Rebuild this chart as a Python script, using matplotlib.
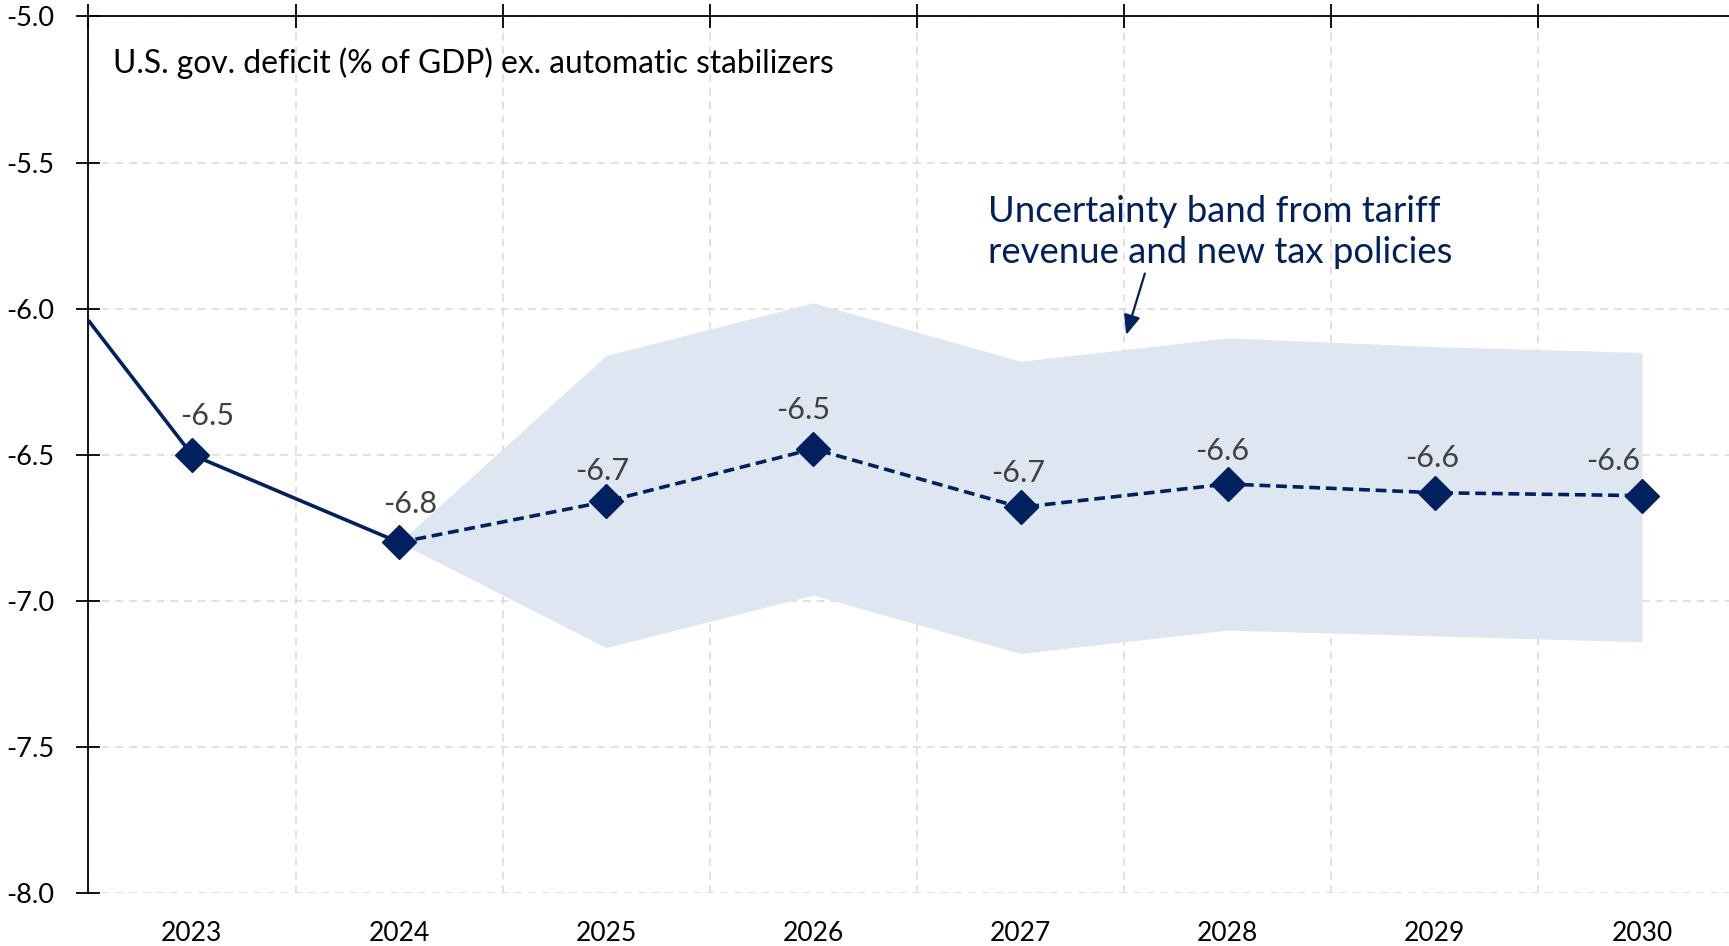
import matplotlib
matplotlib.use("Agg")
import matplotlib.pyplot as plt

plt.rcParams['font.family'] = ['Lato', 'DejaVu Sans']

# ---- data ----
years = [2023, 2024, 2025, 2026, 2027, 2028, 2029, 2030]
deficit = [-6.50, -6.80, -6.66, -6.48, -6.68, -6.60, -6.63, -6.64]
start_x = 2022.5
start_val = -6.04
band_years = [2024, 2025, 2026, 2027, 2028, 2029, 2030]
band_upper = [-6.80, -6.16, -5.98, -6.18, -6.10, -6.13, -6.15]
band_lower = [-6.80, -7.16, -6.98, -7.18, -7.10, -7.12, -7.14]
year_labels = [str(y) for y in years]
ytick_vals = [-8.0, -7.5, -7.0, -6.5, -6.0, -5.5, -5.0]
ytick_labels = ["-8.0", "-7.5", "-7.0", "-6.5", "-6.0", "-5.5", "-5.0"]
title_text = "U.S. gov. deficit (% of GDP) ex. automatic stabilizers"
band_text = "Uncertainty band from tariff\nrevenue and new tax policies"

NAVY = "#002060"
BAND = "#dee6f1"
GRID = "#d9d9d9"
LABEL = "#404040"

fig = plt.figure(figsize=(17.29, 9.46), dpi=100)
ax = fig.add_axes([0.0511, 0.056, 0.9489, 0.9266])

ax.set_xlim(2022.5, 2030.42)
ax.set_ylim(-8.0, -5.0)

# band
ax.fill_between(band_years, band_lower, band_upper, color=BAND, lw=0, zorder=1)

# solid historical part
ax.plot([start_x] + years[:2], [start_val] + deficit[:2], color=NAVY, lw=2.6,
        solid_capstyle='butt', zorder=3)
# dashed projection
ax.plot(years[1:], deficit[1:], color=NAVY, lw=2.6, ls=(0, (3, 1.6)), zorder=3)
# markers
ax.plot(years, deficit, ls='none', marker='D', ms=17.5, color=NAVY, zorder=4)

# value labels
dx = [11, 8, -3, -7, -2, -4, -2, -21]
dy = [28, 28, 22, 28, 25, 24, 25, 25]
for x, v, d, e in zip(years, deficit, dx, dy):
    ax.annotate(f"{v:.1f}", (x, v), xytext=(d, e), textcoords='offset points',
                ha='center', va='center', fontsize=22, color=LABEL, zorder=5)

# axes styling
for s in ['right', 'bottom']:
    ax.spines[s].set_visible(False)
ax.spines['top'].set_color('black')
ax.spines['left'].set_color('black')
ax.spines['top'].set_linewidth(1.3)
ax.spines['left'].set_linewidth(1.3)

ax.set_yticks(ytick_vals)
ax.set_yticklabels(ytick_labels, fontsize=19.5)
ax.tick_params(axis='y', direction='inout', length=17, width=1.3, pad=16, colors='black')

ax.set_xticks(years)
ax.set_xticklabels(year_labels, fontsize=19)
ax.tick_params(axis='x', which='major', bottom=True, length=0, pad=20)
ax.set_xticks([y + 0.5 for y in [2022] + years[:-1]], minor=True)
ax.tick_params(axis='x', which='minor', bottom=False, top=True, direction='inout',
               length=17, width=1.3)

ax.grid(which='minor', axis='x', color=GRID, ls=(0, (5, 4)), lw=1.1, zorder=0)
ax.grid(which='major', axis='y', color=GRID, ls=(0, (5, 4)), lw=1.1, zorder=0)
ax.grid(which='major', axis='x', visible=False)
ax.set_axisbelow(True)

# title inside
fig.text(113 / 1729, 1 - 63 / 946, title_text, fontsize=22.9, color='black',
         ha='left', va='center')

# annotation
ax.annotate("", xy=(2027.51, -6.09), xytext=(2027.60, -5.88),
            arrowprops=dict(arrowstyle='-|>,head_length=1.2,head_width=0.5',
                            color=NAVY, lw=1.6, shrinkA=0, shrinkB=0), zorder=6)
fig.text(988 / 1729, 1 - 232 / 946, band_text, fontsize=26.3, color=NAVY,
         ha='left', va='center', linespacing=1.3)

fig.savefig("out.png", dpi=100)
